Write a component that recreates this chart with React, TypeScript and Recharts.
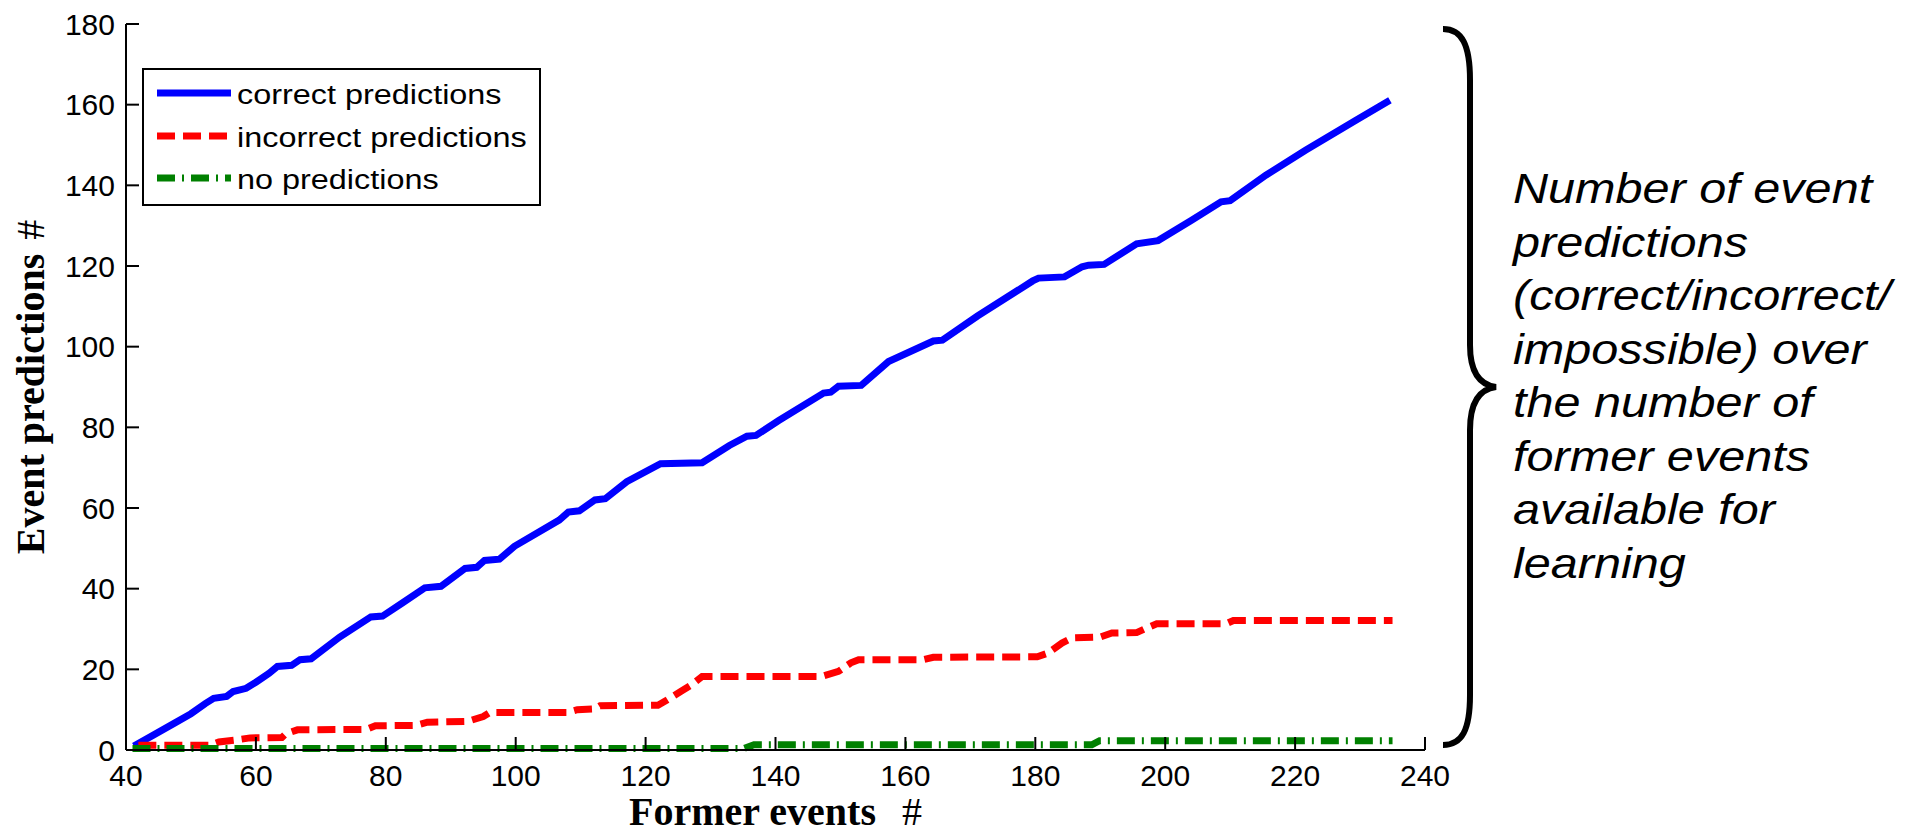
import React from 'react';
import { LineChart, Line, XAxis, YAxis, Legend, Label } from 'recharts';

// ---------- data ----------
const xTicks = [40, 60, 80, 100, 120, 140, 160, 180, 200, 220, 240];
const yTicks = [0, 20, 40, 60, 80, 100, 120, 140, 160, 180];

const correctX = [41.2, 44, 47.4, 50, 52.2, 53.5, 55.5, 56.5, 58.5, 60, 62, 63.3, 65.5, 66.8, 68.5, 72.9, 77.7, 79.5, 82.6, 86, 88.5, 92.2, 94, 95.2, 97.5, 99.8, 106.7, 108.1, 109.8, 112.2, 113.8, 117.1, 122.3, 128.7, 132.9, 135.6, 137, 140.5, 147.4, 148.5, 149.7, 153.2, 157.4, 164.3, 165.7, 171.1, 179.6, 180.5, 184.5, 187.2, 188.2, 190.6, 195.6, 198.9, 204, 208.6, 210, 215.5, 221.6, 229.3, 234.6];
const correctY = [1, 3.5, 6.6, 9, 11.5, 12.8, 13.3, 14.5, 15.3, 16.8, 19, 20.7, 21, 22.4, 22.6, 28, 33, 33.2, 36.5, 40.2, 40.6, 45, 45.3, 47, 47.3, 50.5, 57, 59, 59.3, 62, 62.3, 66.5, 71, 71.2, 75.5, 77.8, 78, 81.7, 88.5, 88.7, 90.2, 90.4, 96.3, 101.4, 101.6, 107.6, 116.3, 117, 117.3, 119.8, 120.2, 120.4, 125.5, 126.3, 131.3, 135.9, 136.2, 142.5, 148.7, 156.1, 161.1];

const incorrectX = [41.9, 52.9, 54.3, 57, 59.1, 64, 64.6, 66.4, 77, 78.4, 84.6, 86.4, 92.6, 95, 96, 108, 109.5, 112.2, 113, 121.9, 123.3, 125.4, 127.1, 128.7, 147, 149.7, 151.6, 152.8, 162.7, 164.3, 180.3, 181.9, 184.1, 185.7, 190, 191.8, 195.6, 196.8, 198.7, 209.4, 210.5, 235];
const incorrectY = [1.2, 1.2, 2, 2.5, 3, 3.1, 4, 5, 5.1, 6, 6.1, 6.9, 7.1, 8.3, 9.3, 9.3, 10, 10.2, 11, 11.1, 12.4, 14.5, 16.2, 18.2, 18.2, 19.5, 21.6, 22.4, 22.4, 23, 23.1, 24, 26.5, 27.8, 28, 29, 29.1, 30, 31.3, 31.3, 32.1, 32.1];

const noneX = [41, 135.2, 136.7, 188.7, 189.9, 235];
const noneY = [0.4, 0.4, 1.3, 1.3, 2.3, 2.3];

const seriesNames = ['correct predictions', 'incorrect predictions', 'no predictions'];
const seriesColors = ['#0000ff', '#ff0000', '#008000'];
const seriesDash = [undefined, '18 8', '18 7 2 7'];

const xTitle = 'Former events';
const yTitle = 'Event predictions';
const titleHash = '#';

const annotationLines = [
  'Number of event',
  'predictions',
  '(correct/incorrect/',
  'impossible) over',
  'the number of',
  'former events',
  'available for',
  'learning',
];

// ---------- helpers ----------
const toPoints = (xs: number[], ys: number[]) => xs.map((x, i) => ({ x, y: ys[i] }));
const correctData = toPoints(correctX, correctY);
const incorrectData = toPoints(incorrectX, incorrectY);
const noneData = toPoints(noneX, noneY);
const seriesData = [correctData, incorrectData, noneData];

const SANS = '"Liberation Sans", Arial, Helvetica, sans-serif';
const SERIF = '"Liberation Serif", "Times New Roman", Times, serif';

const XTitle = (props: any) => {
  const vb = props.viewBox || { x: 126, y: 750, width: 1299, height: 84 };
  const cx = vb.x + vb.width / 2;
  return (
    <text x={cx} y={825} textAnchor="middle" fontFamily={SERIF} fontSize={40} fontWeight="bold" fill="#000" style={{ whiteSpace: 'pre' }}>
      {xTitle}
      <tspan dx={26} fontWeight="normal">{titleHash}</tspan>
    </text>
  );
};

const YTitle = (props: any) => {
  const vb = props.viewBox || { x: 0, y: 24, width: 126, height: 726 };
  const cy = vb.y + vb.height / 2;
  const bx = 44;
  return (
    <text transform={`translate(${bx} ${cy}) rotate(-90)`} x={0} y={0} textAnchor="middle" fontFamily={SERIF} fontSize={40} fontWeight="bold" fill="#000" style={{ whiteSpace: 'pre' }}>
      {yTitle}
      <tspan dx={14} fontWeight="normal">{titleHash}</tspan>
    </text>
  );
};

const legendRows = [25, 68, 110];

const renderLegend = () => (
  <svg width={399} height={138} style={{ display: 'block', overflow: 'visible' }}>
    <rect x={1} y={1} width={397} height={136} fill="#fff" stroke="#000" strokeWidth={2} />
    {seriesNames.map((name, i) => (
      <g key={name}>
        <line x1={15} x2={89} y1={legendRows[i]} y2={legendRows[i]} stroke={seriesColors[i]} strokeWidth={7} strokeDasharray={seriesDash[i]} />
        <text transform={`translate(95 ${legendRows[i] + 11}) scale(1.157 1)`} fontFamily={SANS} fontSize={28} fill="#000">
          {name}
        </text>
      </g>
    ))}
  </svg>
);

const axisStroke = '#000';
const tickStyle = { fontSize: 30, fill: '#000', fontFamily: SANS };

export default function App() {
  return (
    <div style={{ position: 'absolute', left: 0, top: 0, width: 1910, height: 834, background: '#fff', overflow: 'hidden' }}>
      <LineChart width={1910} height={834} margin={{ top: 24, right: 485, bottom: 0, left: 0 }}>
        <XAxis
          xAxisId="b"
          type="number"
          dataKey="x"
          domain={[40, 240]}
          ticks={xTicks}
          interval={0}
          orientation="bottom"
          height={84}
          tickSize={-13}
          tickMargin={28}
          stroke={axisStroke}
          strokeWidth={2}
          tick={tickStyle}
          tickLine={{ stroke: axisStroke, strokeWidth: 2 }}
        >
          <Label content={XTitle} />
        </XAxis>
        <XAxis
          xAxisId="t"
          type="number"
          dataKey="x"
          domain={[40, 240]}
          ticks={xTicks}
          interval={0}
          orientation="top"
          height={0}
          tickSize={-13}
          stroke={axisStroke}
          strokeWidth={2}
          tick={() => <g />}
          tickLine={{ stroke: axisStroke, strokeWidth: 2 }}
        />
        <YAxis
          yAxisId="l"
          type="number"
          domain={[0, 180]}
          ticks={yTicks}
          interval={0}
          orientation="left"
          width={126}
          tickSize={-13}
          tickMargin={24}
          stroke={axisStroke}
          strokeWidth={2}
          tick={tickStyle}
          tickLine={{ stroke: axisStroke, strokeWidth: 2 }}
        >
          <Label content={YTitle} />
        </YAxis>
        <YAxis
          yAxisId="r"
          type="number"
          domain={[0, 180]}
          ticks={yTicks}
          interval={0}
          orientation="right"
          width={0}
          tickSize={-13}
          stroke={axisStroke}
          strokeWidth={2}
          tick={() => <g />}
          tickLine={{ stroke: axisStroke, strokeWidth: 2 }}
        />
        <Legend
          layout="horizontal"
          verticalAlign="middle"
          align="center"
          content={renderLegend}
          wrapperStyle={{ position: 'absolute', left: 142, top: 68, width: 399, height: 138 }}
        />
        {seriesNames.map((name, i) => (
          <Line
            key={name}
            xAxisId="b"
            yAxisId="l"
            data={seriesData[i]}
            dataKey="y"
            name={name}
            type="linear"
            stroke={seriesColors[i]}
            strokeWidth={7}
            strokeDasharray={seriesDash[i]}
            dot={false}
            activeDot={false}
            isAnimationActive={false}
          />
        ))}
      </LineChart>
      <svg width={1910} height={834} style={{ position: 'absolute', left: 0, top: 0, pointerEvents: 'none' }}>
        <path
          d="M1443,29 C1462,29 1470,45 1470,80 L1470,345 C1470,372 1480,385 1496,387 C1480,389 1470,402 1470,430 L1470,695 C1470,730 1462,745 1443,745"
          fill="none"
          stroke="#000"
          strokeWidth={6}
        />
        {annotationLines.map((line, i) => (
          <text
            key={line}
            transform={`translate(1513 ${203 + i * 53.5}) scale(1.157 1)`}
            fontFamily={SANS}
            fontStyle="italic"
            fontSize={42}
            fill="#000"
          >
            {line}
          </text>
        ))}
      </svg>
    </div>
  );
}
